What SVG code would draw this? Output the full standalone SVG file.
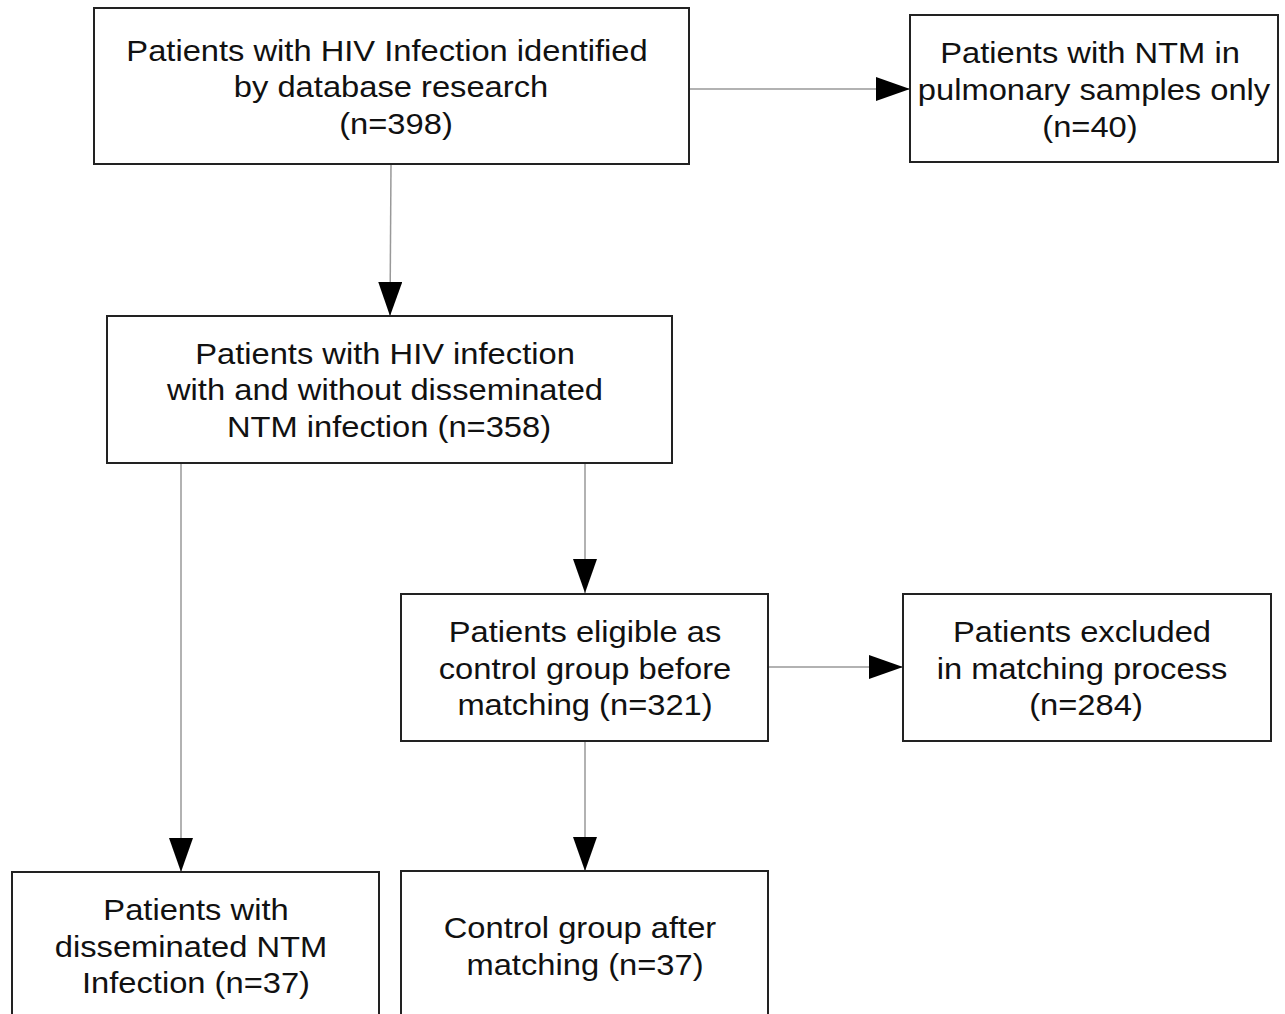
<svg xmlns="http://www.w3.org/2000/svg" width="1285" height="1014" viewBox="0 0 1285 1014">
<defs>
<marker id="ah" markerWidth="34" markerHeight="24" refX="34" refY="12" orient="auto" markerUnits="userSpaceOnUse">
<path d="M0,0 L34,12 L0,24 Z" fill="#000"/>
</marker>
<style>
.box{fill:#fff;stroke:#222;stroke-width:2}
.t{font-family:"Liberation Sans",Arial,sans-serif;font-size:30px;fill:#111;text-anchor:middle}
.c{stroke:#999;stroke-width:1.5;fill:none}
</style>
</defs>
<rect width="1285" height="1014" fill="#fff"/>
<g id="connectors">
<line class="c" x1="690" y1="89" x2="910" y2="89" marker-end="url(#ah)"/>
<line class="c" x1="391" y1="164" x2="390" y2="316" marker-end="url(#ah)"/>
<line class="c" x1="181" y1="463" x2="181" y2="872" marker-end="url(#ah)"/>
<line class="c" x1="585" y1="463" x2="585" y2="593" marker-end="url(#ah)"/>
<line class="c" x1="768" y1="667" x2="903" y2="667" marker-end="url(#ah)"/>
<line class="c" x1="585" y1="741" x2="585" y2="871" marker-end="url(#ah)"/>
</g>
<g id="n1">
<rect class="box" x="94" y="8" width="595" height="156"/>
<text class="t" transform="matrix(1.09 0 0 1 387 61)">Patients with HIV Infection identified</text>
<text class="t" transform="matrix(1.09 0 0 1 391 97)">by database research</text>
<text class="t" transform="matrix(1.09 0 0 1 396 134)">(n=398)</text>
</g>
<g id="n2">
<rect class="box" x="910" y="15" width="368" height="147"/>
<text class="t" transform="matrix(1.09 0 0 1 1090 63)">Patients with NTM in</text>
<text class="t" transform="matrix(1.09 0 0 1 1094 100)">pulmonary samples only</text>
<text class="t" transform="matrix(1.09 0 0 1 1090 137)">(n=40)</text>
</g>
<g id="n3">
<rect class="box" x="107" y="316" width="565" height="147"/>
<text class="t" transform="matrix(1.09 0 0 1 385 364)">Patients with HIV infection</text>
<text class="t" transform="matrix(1.09 0 0 1 385 400)">with and without disseminated</text>
<text class="t" transform="matrix(1.09 0 0 1 389 437)">NTM infection (n=358)</text>
</g>
<g id="n4">
<rect class="box" x="401" y="594" width="367" height="147"/>
<text class="t" transform="matrix(1.09 0 0 1 585 642)">Patients eligible as</text>
<text class="t" transform="matrix(1.09 0 0 1 585 679)">control group before</text>
<text class="t" transform="matrix(1.09 0 0 1 585 715)">matching (n=321)</text>
</g>
<g id="n5">
<rect class="box" x="903" y="594" width="368" height="147"/>
<text class="t" transform="matrix(1.09 0 0 1 1082 642)">Patients excluded</text>
<text class="t" transform="matrix(1.09 0 0 1 1082 679)">in matching process</text>
<text class="t" transform="matrix(1.09 0 0 1 1086 715)">(n=284)</text>
</g>
<g id="n6">
<rect class="box" x="12" y="872" width="367" height="160"/>
<text class="t" transform="matrix(1.09 0 0 1 196 920)">Patients with</text>
<text class="t" transform="matrix(1.09 0 0 1 191 957)">disseminated NTM</text>
<text class="t" transform="matrix(1.09 0 0 1 196 993)">Infection (n=37)</text>
</g>
<g id="n7">
<rect class="box" x="401" y="871" width="367" height="160"/>
<text class="t" transform="matrix(1.09 0 0 1 580 938)">Control group after</text>
<text class="t" transform="matrix(1.09 0 0 1 585 975)">matching (n=37)</text>
</g>
</svg>
